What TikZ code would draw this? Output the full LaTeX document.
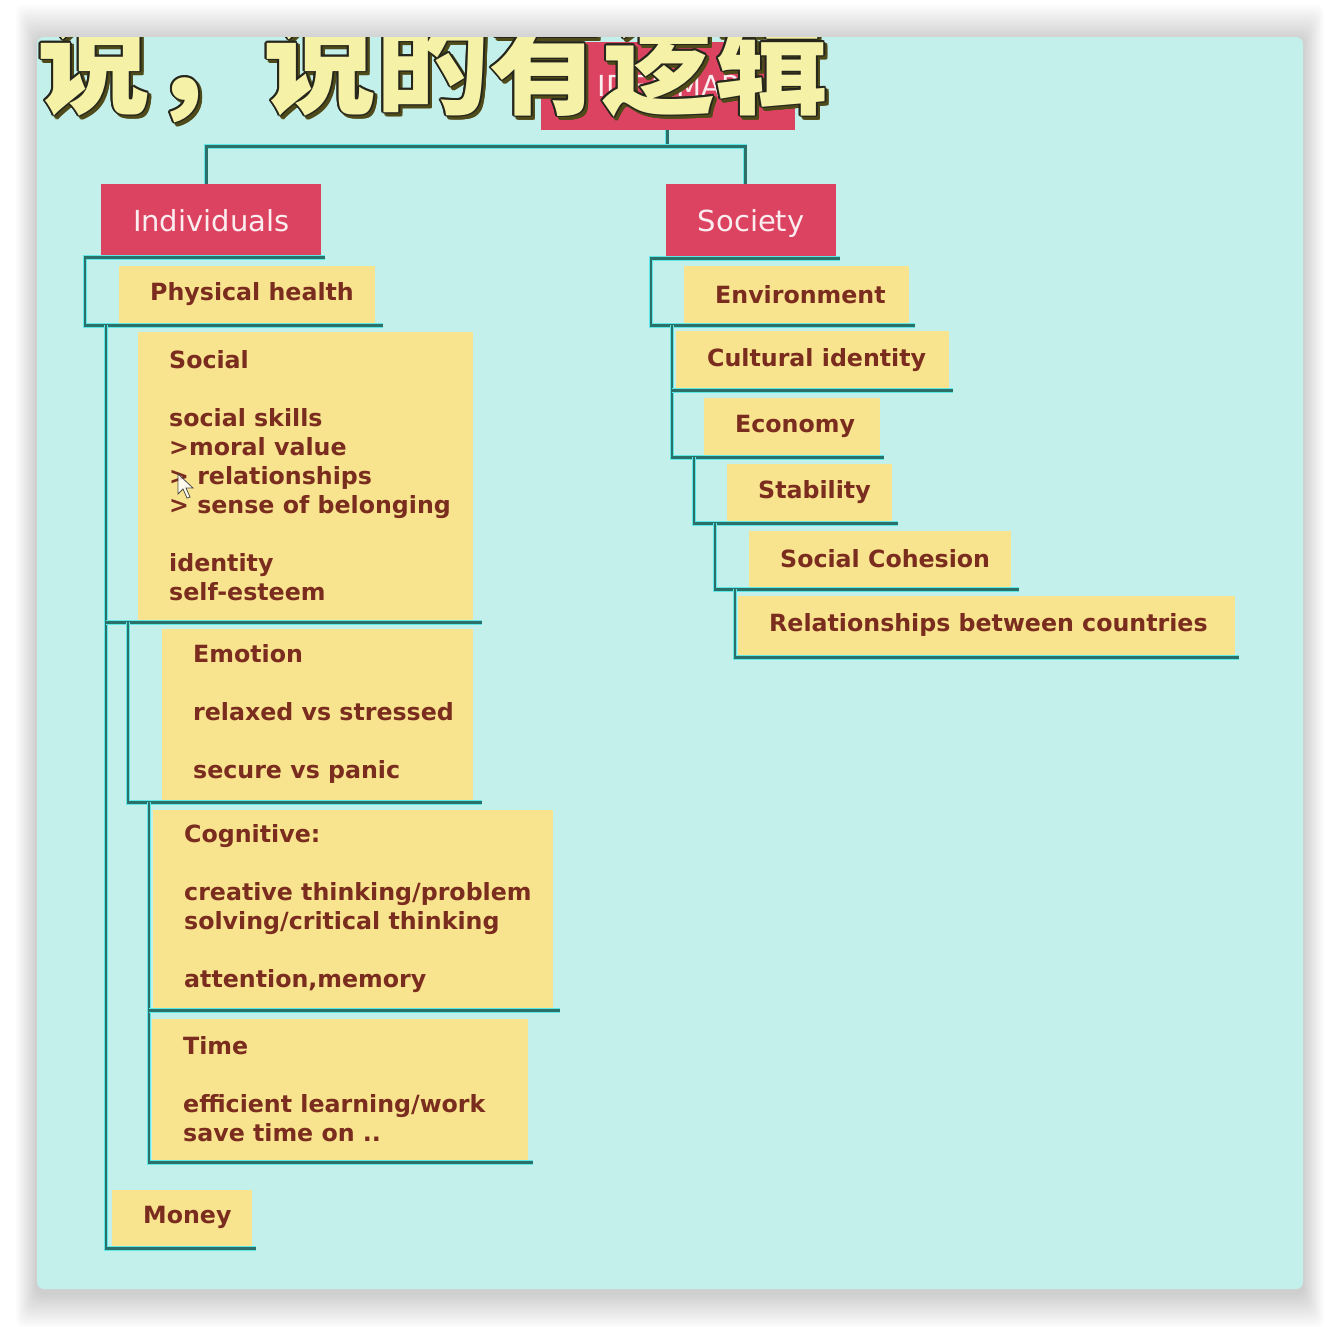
\documentclass[tikz,border=0pt]{standalone}
\usepackage{fontspec}
\setmainfont{DejaVu Sans}
\newfontfamily\cjkfont{Noto Sans CJK SC}
\usetikzlibrary{calc}
\definecolor{bgc}{RGB}{196,240,235}
\definecolor{redc}{RGB}{220,67,96}
\definecolor{yelc}{RGB}{248,228,142}
\definecolor{txtc}{RGB}{122,44,30}
\definecolor{lnc}{RGB}{44,112,106}
\definecolor{glowc}{RGB}{95,232,232}
\definecolor{capfill}{RGB}{245,242,168}
\definecolor{capline}{RGB}{38,38,28}
\definecolor{capshad}{RGB}{78,74,26}
\tikzset{
  redbox/.style={fill=redc, anchor=north west, inner sep=0pt, text=white!90!redc,
    font=\fontsize{29}{34}\selectfont, text height=27pt, text depth=6pt},
  yelbox/.style={fill=yelc, anchor=north west, inner sep=0pt},
  boxtext/.style={anchor=west, inner sep=0pt, align=left, text=txtc,
    font=\fontsize{23.7}{29}\selectfont\bfseries},
  conn/.style={draw=lnc, line width=2.6pt, preaction={draw=glowc, line width=4.4pt}},
  capstyle/.style={anchor=base west, inner sep=0pt,
    font=\cjkfont\bfseries\fontsize{113}{113}\selectfont}
}
\newcommand\ybox[6]{%
  \node[yelbox, minimum width=#4pt, minimum height=#5pt] (#1) at (#2,#3) {};
  \node[boxtext] (#1t) at ($(#1.west)+(31,-1)$) {#6};}
\newcommand\captxt{说，说的有逻辑}
\begin{document}
\begin{tikzpicture}[x=1pt,y=-1pt]
\useasboundingbox (0,0) rectangle (1340,1326);
\fill[white] (0,0) rectangle (1340,1326);
% window shadow
\foreach \i in {1,...,16}{
  \fill[black, opacity=0.013, rounded corners=8pt]
    (37-\i*1.3, 37-\i*2.3+4) rectangle (1303+\i*1.3, 1289+\i*2.2+4);
}
\fill[bgc, rounded corners=7pt] (37,37) rectangle (1303,1289);

% top node
\node[redbox, minimum width=254pt, minimum height=88pt] (idea) at (541,42) {IDEA MAP};
% level 1
\node[redbox, minimum width=220pt, minimum height=73pt] (ind) at (101,184) {Individuals};
\node[redbox, minimum width=170pt, minimum height=73pt] (soc) at (666,184) {Society};

% left boxes
\ybox{phys}{119}{266}{256}{58}{Physical health}
\ybox{social}{138}{332}{335}{288}{Social\\[29pt]social skills\\>moral value\\> relationships\\> sense of belonging\\[29pt]identity\\self-esteem}
\ybox{emo}{162}{629}{311}{171}{Emotion\\[29pt]relaxed vs stressed\\[29pt]secure vs panic}
\ybox{cog}{153}{810}{400}{198}{Cognitive:\\[29pt]creative thinking/problem\\solving/critical thinking\\[29pt]attention,memory}
\ybox{time}{152}{1019}{376}{141}{Time\\[29pt]efficient learning/work\\save time on ..}
\ybox{money}{112}{1190}{140}{57}{Money}
% right boxes
\ybox{env}{684}{266}{225}{58}{Environment}
\ybox{cult}{676}{331}{273}{59}{Cultural identity}
\ybox{econ}{704}{398}{176}{58}{Economy}
\ybox{stab}{727}{464}{165}{57}{Stability}
\ybox{coh}{749}{531}{262}{56}{Social Cohesion}
\ybox{rel}{738}{596}{497}{59}{Relationships between countries}

% top connectors
\coordinate (tj) at ($(idea.south)+(-1,16)$);
\draw[conn] ($(idea.south)+(-1,0)$) -- (tj);
\draw[conn] (tj) -| ($(ind.north)+(-5,0)$);
\draw[conn] (tj) -| ($(soc.north)+(-6,0)$);

% left tree
\draw[conn] ($(ind.south east)+(4,0)$) -- ($(ind.south west)+(-16,0)$) |- ($(phys.south east)+(8,1)$);
\coordinate (l1top) at ($(phys.south west)+(-13,1)$);
\draw[conn] (l1top) |- ($(money.south east)+(4,1)$);
\draw[conn] ($(l1top|-social.south)+(0,2)$) -- ($(social.south east)+(9,2)$);
\coordinate (l2top) at ($(social.south west)+(-10,2)$);
\draw[conn] (l2top) |- ($(emo.south east)+(9,2)$);
\coordinate (l3top) at ($(emo.south west)+(-13,2)$);
\draw[conn] (l3top) |- ($(time.south east)+(5,2)$);
\draw[conn] ($(l3top|-cog.south)+(0,2)$) -- ($(cog.south east)+(7,2)$);

% right tree
\draw[conn] ($(soc.south east)+(4,1)$) -- ($(soc.south west)+(-15,1)$) |- ($(env.south east)+(6,1)$);
\coordinate (r1top) at ($(env.south west)+(-12,1)$);
\draw[conn] (r1top) |- ($(econ.south east)+(4,1)$);
\draw[conn] ($(r1top|-cult.south)+(0,0)$) -- ($(cult.south east)+(4,0)$);
\coordinate (r2top) at ($(econ.south west)+(-10,1)$);
\draw[conn] (r2top) |- ($(stab.south east)+(6,2)$);
\coordinate (r3top) at ($(stab.south west)+(-12,2)$);
\draw[conn] (r3top) |- ($(coh.south east)+(8,2)$);
\coordinate (r4top) at ($(coh.south west)+(-14,2)$);
\draw[conn] (r4top) |- ($(rel.south east)+(4,2)$);

% mouse cursor
\filldraw[fill=white, draw=black!80, line width=0.8pt, opacity=0.85]
  (178,474) -- (178,494) -- (183,489) -- (187,498) -- (190,497) -- (186,488) -- (193,488) -- cycle;

% caption
\begin{scope}
\clip[rounded corners=7pt] (37,37) rectangle (1303,1289);
\coordinate (cap) at (37,105);
\foreach \a in {0,45,...,315}{
  \node[capstyle, text=capshad] (cs\a) at ($(cap)+(3,3)+(\a:1.6)$) {\captxt};
}
\foreach \a in {0,30,...,330}{
  \node[capstyle, text=capline] (co\a) at ($(cap)+(\a:1.8)$) {\captxt};
}
\node[capstyle, text=capfill] (capmain) at (cap) {\captxt};
\end{scope}
\end{tikzpicture}
\end{document}
